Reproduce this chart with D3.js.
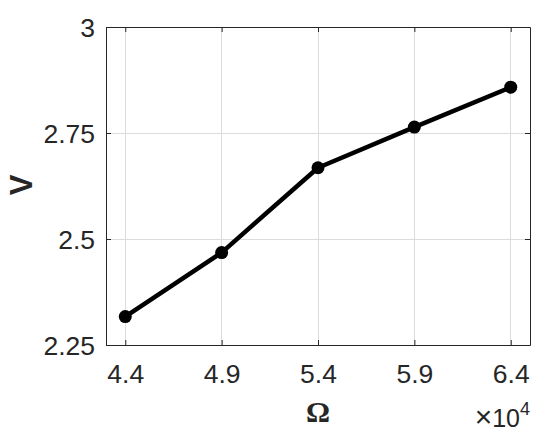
<!DOCTYPE html>
<html><head><meta charset="utf-8">
<script src="https://cdn.jsdelivr.net/npm/d3@7"></script>
<style>body{margin:0;background:#fff}svg{display:block}</style>
</head><body>
<svg id="c" width="550" height="441"></svg>
<script>
const omega = [44000, 49000, 54000, 59000, 64000];
const vValues = [2.317, 2.468, 2.668, 2.764, 2.858];
const xTicks = [44000, 49000, 54000, 59000, 64000];
const yTicks = [2.25, 2.5, 2.75, 3];
const xTickLabels = ["4.4", "4.9", "5.4", "5.9", "6.4"];
const yTickLabels = ["2.25", "2.5", "2.75", "3"];

const L = 106, R = 530, T = 27, B = 345;
const svg = d3.select("#c");
const x = d3.scaleLinear().domain([43000, 65000]).range([L, R]);
const y = d3.scaleLinear().domain([2.25, 3]).range([B, T]);
const axisColor = "#262626";
const font = "'Liberation Sans', Arial, Helvetica, sans-serif";

// grid
const g = svg.append("g");
g.selectAll("line.gx").data(xTicks).enter().append("line")
  .attr("x1", d => x(d)).attr("x2", d => x(d)).attr("y1", T).attr("y2", B)
  .attr("stroke", "#dcdcdc").attr("stroke-width", 1).attr("shape-rendering", "crispEdges");
g.selectAll("line.gy").data(yTicks).enter().append("line")
  .attr("y1", d => y(d)).attr("y2", d => y(d)).attr("x1", L).attr("x2", R)
  .attr("stroke", "#dcdcdc").attr("stroke-width", 1).attr("shape-rendering", "crispEdges");

// axes via d3 axis
const xAxis = svg.append("g").attr("transform", `translate(0,${B})`)
  .call(d3.axisBottom(x).tickValues(xTicks).tickSizeInner(-5).tickSizeOuter(0)
    .tickFormat((d, i) => xTickLabels[i]).tickPadding(19));
const yAxis = svg.append("g").attr("transform", `translate(${L},0)`)
  .call(d3.axisLeft(y).tickValues(yTicks).tickSizeInner(-5).tickSizeOuter(0)
    .tickFormat((d, i) => yTickLabels[i]).tickPadding(11));
const xTop = svg.append("g").attr("transform", `translate(0,${T})`)
  .call(d3.axisTop(x).tickValues(xTicks).tickSizeInner(-5).tickSizeOuter(0).tickFormat(""));
const yRight = svg.append("g").attr("transform", `translate(${R},0)`)
  .call(d3.axisRight(y).tickValues(yTicks).tickSizeInner(-5).tickSizeOuter(0).tickFormat(""));
[xAxis, yAxis, xTop, yRight].forEach(a => {
  a.selectAll("path").attr("stroke", axisColor).attr("stroke-width", 1);
  a.selectAll("line").attr("stroke", axisColor).attr("stroke-width", 1);
  a.selectAll("text").attr("fill", axisColor).style("font-family", font).style("font-size", "26.5px");
});
xAxis.selectAll("text").attr("dy", "0.71em");
yAxis.selectAll("text").attr("dy", "0.35em");

// line + markers
svg.append("path").datum(omega.map((o, i) => [o, vValues[i]]))
  .attr("fill", "none").attr("stroke", "#000").attr("stroke-width", 4.5)
  .attr("stroke-linejoin", "round")
  .attr("d", d3.line().x(d => x(d[0])).y(d => y(d[1])));
svg.selectAll("circle.m").data(omega).enter().append("circle")
  .attr("cx", d => x(d)).attr("cy", (d, i) => y(vValues[i])).attr("r", 6.5).attr("fill", "#000");

// labels
svg.append("text").attr("x", x(54000)).attr("y", 422).attr("text-anchor", "middle")
  .style("font-family", "'Liberation Serif', 'Times New Roman', serif").style("font-weight", "bold")
  .style("font-size", "30px").attr("fill", axisColor).text("Ω");
svg.append("text").attr("transform", "translate(32,185) rotate(-90)").attr("text-anchor", "middle")
  .style("font-family", font).style("font-weight", "bold").style("font-size", "31px")
  .attr("fill", axisColor).text("V");
const ex = svg.append("text").attr("x", R).attr("y", 427).attr("text-anchor", "end")
  .style("font-family", font).style("font-size", "25px").attr("fill", axisColor);
ex.append("tspan").style("font-size", "30px").text("×");
ex.append("tspan").text("10");
ex.append("tspan").attr("dy", -12).style("font-size", "18px").text("4");
</script>
</body></html>
